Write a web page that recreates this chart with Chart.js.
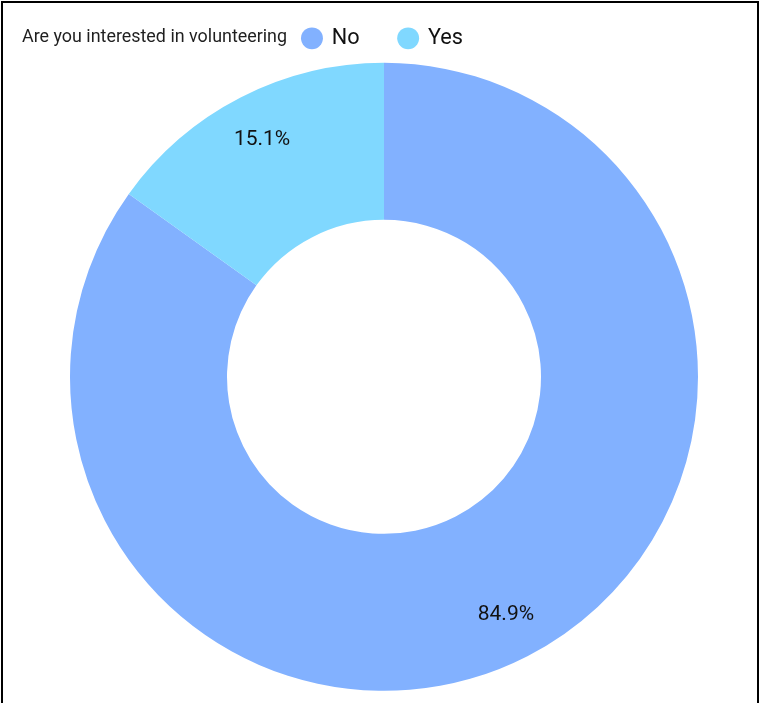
<!DOCTYPE html>
<html>
<head>
<meta charset="utf-8">
<script src="https://cdn.jsdelivr.net/npm/chart.js@4.4.1/dist/chart.umd.min.js"></script>
<style>
  html, body { margin: 0; padding: 0; background: #fff; overflow: hidden; }
  #frame {
    position: absolute; left: 1px; top: 1px;
    width: 754px; height: 740px;
    border: 2px solid #000; overflow: hidden; background: #fff;
  }
  #wrap { position: absolute; left: 0; top: -14.85px; width: 754px; height: 720px; }
  #legendTitle {
    position: absolute; left: 19px; top: 22.7px; line-height: 20px;
    font-family: Roboto, sans-serif; font-size: 17.9px; color: #1f1f1f;
    white-space: nowrap; z-index: 2;
  }
</style>
</head>
<body>
<div id="frame">
  <div id="wrap"><canvas id="c" width="754" height="720"></canvas></div>
  <div id="legendTitle"></div>
</div>
<script>
const legendTitle = 'Are you interested in volunteering';
const categories = ['No', 'Yes'];
const values = [84.9, 15.1];

const sliceColors = ['#82B1FF', '#80D8FF'];

document.getElementById('legendTitle').textContent = legendTitle;

const legendFit = {
  id: 'legendFit',
  beforeInit(chart) {
    const lg = chart.legend;
    const orig = lg.fit;
    lg.fit = function () { orig.call(this); this.height += 3.65; };
  },
  afterLayout(chart) {
    const lg = chart.legend;
    lg.left -= 1;
    lg.right -= 1;
  }
};

const sliceLabels = {
  id: 'sliceLabels',
  afterDatasetsDraw(chart) {
    const ctx = chart.ctx;
    const meta = chart.getDatasetMeta(0);
    const data = chart.data.datasets[0].data;
    const total = data.reduce((a, b) => a + b, 0);
    ctx.save();
    ctx.font = '21px Roboto';
    ctx.fillStyle = '#111';
    ctx.textAlign = 'center';
    ctx.textBaseline = 'middle';
    meta.data.forEach((arc, i) => {
      const p = arc.getProps(['x', 'y', 'startAngle', 'endAngle', 'innerRadius', 'outerRadius'], true);
      const mid = (p.startAngle + p.endAngle) / 2;
      const r = p.innerRadius + 0.7 * (p.outerRadius - p.innerRadius);
      const txt = (data[i] / total * 100).toFixed(1) + '%';
      ctx.fillText(txt, p.x + r * Math.cos(mid), p.y + r * Math.sin(mid));
    });
    ctx.restore();
  }
};

new Chart(document.getElementById('c'), {
  type: 'doughnut',
  data: {
    labels: categories,
    datasets: [{
      data: values,
      backgroundColor: sliceColors,
      borderWidth: 0,
      hoverOffset: 0
    }]
  },
  options: {
    responsive: false,
    animation: false,
    devicePixelRatio: 1,
    cutout: '50%',
    layout: { padding: { left: 8, right: 0, top: 0, bottom: 17.15 } },
    plugins: {
      legend: {
        display: true,
        position: 'top',
        align: 'center',
        labels: {
          usePointStyle: true,
          pointStyle: 'circle',
          boxWidth: 18,
          boxHeight: 15.5,
          padding: 39.5,
          color: '#111',
          font: { family: 'Roboto', size: 21.7 }
        }
      },
      tooltip: { enabled: false }
    }
  },
  plugins: [legendFit, sliceLabels]
});
</script>
</body>
</html>
